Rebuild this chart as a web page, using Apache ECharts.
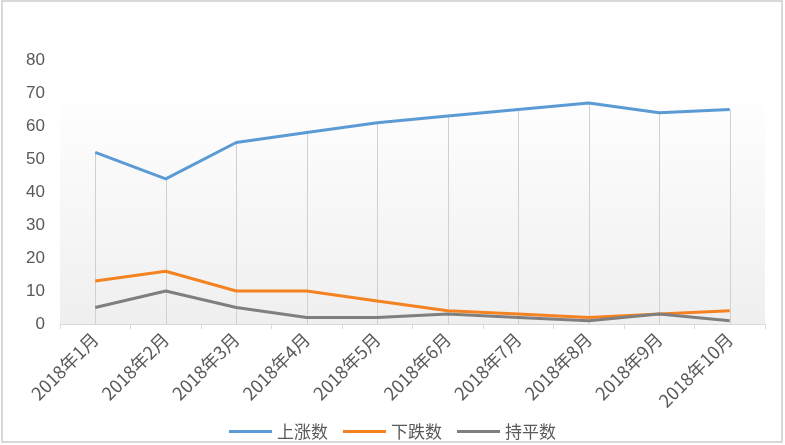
<!DOCTYPE html>
<html>
<head>
<meta charset="utf-8">
<script src="https://cdn.jsdelivr.net/npm/echarts@6/dist/echarts.min.js"></script>
<style>html,body{margin:0;padding:0;background:#fff}#c{width:785px;height:445px}</style>
</head>
<body>
<div id="c"></div>
<script>
var categories = ['2018年1月','2018年2月','2018年3月','2018年4月','2018年5月','2018年6月','2018年7月','2018年8月','2018年9月','2018年10月'];
var upValues = [52, 44, 55, 58, 61, 63, 65, 67, 64, 65];
var downValues = [13, 16, 10, 10, 7, 4, 3, 2, 3, 4];
var flatValues = [5, 10, 5, 2, 2, 3, 2, 1, 3, 1];
var seriesNames = ['上涨数', '下跌数', '持平数'];
var yTicks = {min: 0, max: 80, interval: 10};

var chart = echarts.init(document.getElementById('c'), null, {renderer: 'canvas'});
var dropLines = categories.map(function (c, i) {
  return [{coord: [c, 0]}, {coord: [c, upValues[i]]}];
});
var txt = '#595959';
chart.setOption({
  animation: false,
  backgroundColor: '#ffffff',
  graphic: [{
    type: 'rect', silent: true, z: -10,
    shape: {x: 2, y: 1, width: 780, height: 441},
    style: {fill: 'none', stroke: '#d9d9d9', lineWidth: 2}
  }],
  grid: {
    left: 60, right: 20, top: 60, bottom: 121,
    show: true, borderWidth: 0,
    backgroundColor: {
      type: 'linear', x: 0, y: 0, x2: 0, y2: 1,
      colorStops: [{offset: 0, color: '#ffffff'}, {offset: 0.1, color: '#ffffff'}, {offset: 1, color: '#efefef'}]
    }
  },
  legend: {
    data: seriesNames,
    left: 'center', top: 418,
    icon: 'rect', itemWidth: 43, itemHeight: 3, itemGap: 15,
    textStyle: {color: txt, fontSize: 17, fontFamily: 'Noto Sans CJK SC'}
  },
  xAxis: {
    type: 'category', data: categories, boundaryGap: true,
    axisLine: {lineStyle: {color: '#d9d9d9', width: 1}},
    axisTick: {show: true, length: 5, lineStyle: {color: '#d9d9d9'}},
    splitLine: {show: false},
    axisLabel: {rotate: 45, interval: 0, color: txt, fontSize: 18, margin: 12, fontFamily: 'Noto Sans CJK SC'}
  },
  yAxis: {
    type: 'value', min: yTicks.min, max: yTicks.max, interval: yTicks.interval,
    axisLine: {show: false}, axisTick: {show: false}, splitLine: {show: false},
    axisLabel: {color: txt, fontSize: 17, margin: 15, fontFamily: 'Liberation Sans'}
  },
  series: [
    {name: seriesNames[0], type: 'line', data: upValues, symbol: 'none', z: 5,
     lineStyle: {color: '#5b9bd5', width: 3}, itemStyle: {color: '#5b9bd5'},
     markLine: {silent: true, symbol: 'none', label: {show: false}, z: 1,
       lineStyle: {color: '#d0d0d0', width: 1, type: 'solid'}, data: dropLines}},
    {name: seriesNames[1], type: 'line', data: downValues, symbol: 'none', z: 5,
     lineStyle: {color: '#f58220', width: 3}, itemStyle: {color: '#f58220'}},
    {name: seriesNames[2], type: 'line', data: flatValues, symbol: 'none', z: 6,
     lineStyle: {color: '#7f7f7f', width: 3}, itemStyle: {color: '#7f7f7f'}}
  ]
});
</script>
</body>
</html>
